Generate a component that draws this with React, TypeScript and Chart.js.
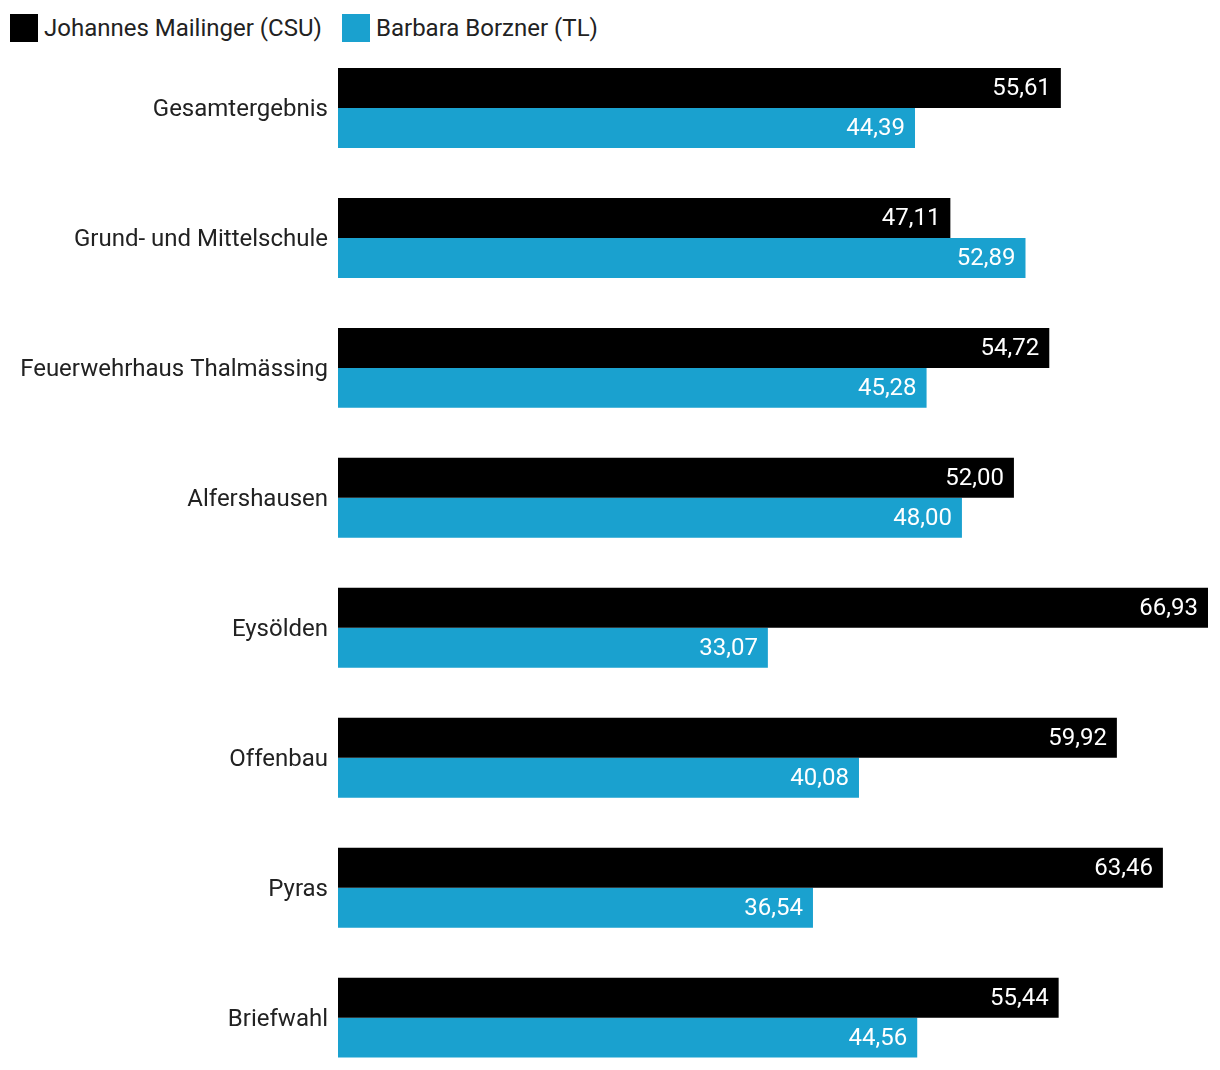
import React, { useEffect, useRef } from "react";
import { Chart, registerables } from "chart.js";

Chart.register(...registerables);

const categories = [
  "Gesamtergebnis",
  "Grund- und Mittelschule",
  "Feuerwehrhaus Thalmässing",
  "Alfershausen",
  "Eysölden",
  "Offenbau",
  "Pyras",
  "Briefwahl",
];
const seriesNames = ["Johannes Mailinger (CSU)", "Barbara Borzner (TL)"];
const seriesColors = ["#000000", "#1aa1cf"];
const mailinger = [55.61, 47.11, 54.72, 52.0, 66.93, 59.92, 63.46, 55.44];
const borzner = [44.39, 52.89, 45.28, 48.0, 33.07, 40.08, 36.54, 44.56];

const FONT = "Roboto, sans-serif";

const valueLabels = {
  id: "valueLabels",
  afterDatasetsDraw(chart: any) {
    const ctx = chart.ctx;
    ctx.save();
    ctx.font = `24px ${FONT}`;
    ctx.fillStyle = "#ffffff";
    ctx.textAlign = "right";
    ctx.textBaseline = "middle";
    chart.data.datasets.forEach((ds: any, di: number) => {
      const meta = chart.getDatasetMeta(di);
      meta.data.forEach((el: any, i: number) => {
        const v = ds.data[i] as number;
        ctx.fillText(v.toFixed(2).replace(".", ","), el.x - 10, el.y + 1);
      });
    });
    ctx.restore();
  },
};

export default function App() {
  const ref = useRef<HTMLCanvasElement>(null);
  useEffect(() => {
    if (!ref.current) return;
    const chart = new Chart(ref.current, {
      type: "bar",
      data: {
        labels: categories,
        datasets: [
          { label: seriesNames[0], data: mailinger, backgroundColor: seriesColors[0] },
          { label: seriesNames[1], data: borzner, backgroundColor: seriesColors[1] },
        ],
      },
      options: {
        indexAxis: "y",
        animation: false,
        responsive: false,
        maintainAspectRatio: false,
        layout: { padding: { top: 43, right: 12, bottom: 0, left: 0 } },
        datasets: { bar: { categoryPercentage: 80 / 130, barPercentage: 1 } },
        plugins: { legend: { display: false }, tooltip: { enabled: false } },
        scales: {
          x: { display: false, min: 0, max: 66.93 },
          y: {
            grid: { display: false, drawTicks: false },
            border: { display: false },
            ticks: { color: "#222222", font: { family: FONT, size: 24 }, padding: 10, labelOffset: 2 },
            afterFit(scale: any) {
              scale.width = 338;
            },
          },
        },
      },
      plugins: [valueLabels],
    });
    return () => chart.destroy();
  }, []);

  const legendItem = (name: string, color: string, left: number) => (
    <div
      key={name}
      style={{ position: "absolute", left, top: 14, display: "flex", alignItems: "center", height: 28 }}
    >
      <div style={{ width: 28, height: 28, background: color, marginRight: 6 }} />
      <span style={{ font: `24px ${FONT}`, color: "#222222", whiteSpace: "nowrap" }}>{name}</span>
    </div>
  );

  return (
    <div
      style={{
        position: "absolute",
        left: 0,
        top: 0,
        width: 1220,
        height: 1070,
        overflow: "hidden",
        background: "#ffffff",
      }}
    >
      {legendItem(seriesNames[0], seriesColors[0], 10)}
      {legendItem(seriesNames[1], seriesColors[1], 342)}
      <canvas ref={ref} width={1220} height={1107} style={{ position: "absolute", left: 0, top: 0 }} />
    </div>
  );
}
